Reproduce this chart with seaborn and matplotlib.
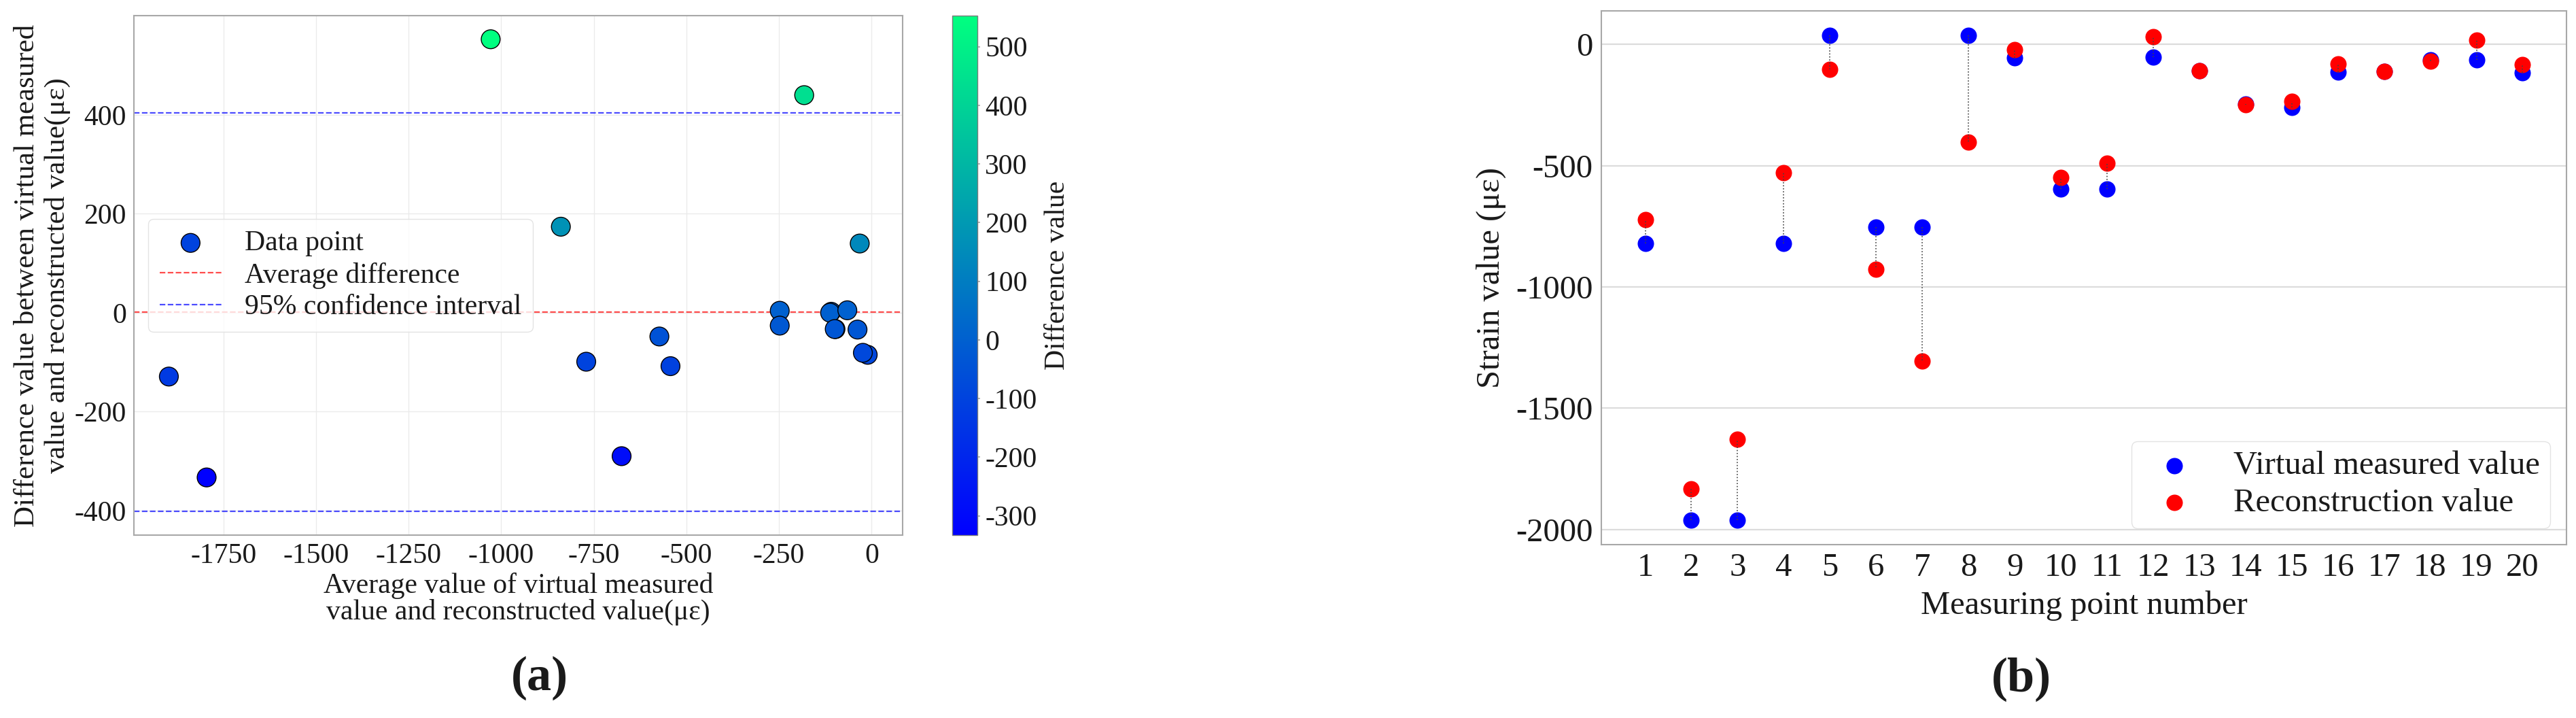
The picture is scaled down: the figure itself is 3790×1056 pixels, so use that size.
import numpy as np
import pandas as pd
import matplotlib
matplotlib.use("Agg")
import matplotlib.pyplot as plt
import seaborn as sns
from matplotlib.colors import Normalize
from matplotlib.cm import ScalarMappable

# ---------------- data ----------------
point_numbers = list(range(1, 21))
virtual_measured = [-820, -1962, -1962, -820, 38, -752, -752, 38, -55, -597,
                    -597, -53, -108, -246, -261, -114, -112, -63, -64, -116]
reconstruction = [-721, -1833, -1629, -530, -102, -926, -1305, -402, -21, -549,
                  -489, 32, -110, -250, -235, -81, -112, -68, 17, -83]

left_xticks = [-1750, -1500, -1250, -1000, -750, -500, -250, 0]
left_yticks = [-400, -200, 0, 200, 400]
cbar_ticks = [-300, -200, -100, 0, 100, 200, 300, 400, 500]
right_yticks = [-2000, -1500, -1000, -500, 0]

# Bland-Altman quantities
v = np.array(virtual_measured, dtype=float)
r = np.array(reconstruction, dtype=float)
mean_vals = (v + r) / 2
diff_vals = v - r
mean_diff = diff_vals.mean()
sd_diff = diff_vals.std(ddof=1)
upper = mean_diff + 1.96 * sd_diff
lower = mean_diff - 1.96 * sd_diff

# ---------------- style ----------------
sns.set_theme(style="whitegrid")
plt.rcParams.update({
    "font.family": ["Liberation Serif", "DejaVu Serif"],
    "axes.unicode_minus": False,
    "axes.edgecolor": "#a8a8a8",
    "axes.linewidth": 1.5,
    "text.color": "#1a1a1a",
    "axes.labelcolor": "#1a1a1a",
    "xtick.color": "#1a1a1a",
    "ytick.color": "#1a1a1a",
})

FS_L = 30
FS_R = 35

fig = plt.figure(figsize=(37.91, 10.56), dpi=100)
ax1 = fig.add_axes([0.05197, 0.25473, 0.29834, 0.72348])
cax = fig.add_axes([0.36956, 0.25473, 0.00976, 0.72348])
ax2 = fig.add_axes([0.62147, 0.24148, 0.37457, 0.74337])

# ---------------- left panel ----------------
df_left = pd.DataFrame({"mean": mean_vals, "diff": diff_vals})
norm = Normalize(vmin=diff_vals.min(), vmax=diff_vals.max())
sns.scatterplot(data=df_left, x="mean", y="diff", hue="diff", palette="winter",
                hue_norm=norm, s=400, edgecolor="black", linewidth=1.0,
                legend=False, ax=ax1, zorder=3)
pts = ax1.collections[0]
pts.set_label("Data point")
l_avg = ax1.axhline(mean_diff, color="red", ls="--", lw=1.6, alpha=0.7,
                    label="Average difference", zorder=2)
l_ci = ax1.axhline(upper, color="blue", ls="--", lw=1.6, alpha=0.7,
                   label="95% confidence interval", zorder=2)
ax1.axhline(lower, color="blue", ls="--", lw=1.6, alpha=0.7, zorder=2)

ax1.set_xticks(left_xticks)
ax1.set_yticks(left_yticks)
ax1.grid(True, color="#ebebeb", lw=1.0)
ax1.tick_params(axis="both", labelsize=FS_L, length=3, color="#a8a8a8", pad=5)
ax1.set_xlabel("Average value of virtual measured\nvalue and reconstructed value(με)",
               fontsize=FS_L, linespacing=1.0, labelpad=4)
ax1.set_ylabel("Difference value between virtual measured\nvalue and reconstructed value(με)",
               fontsize=31, linespacing=1.2, labelpad=4)
leg1 = ax1.legend(handles=[pts, l_avg, l_ci], loc="center left", fontsize=FS_L,
                  labelspacing=0.2, handlelength=2.2, borderpad=0.4,
                  framealpha=0.8, edgecolor="#dddddd")

sm = ScalarMappable(norm=norm, cmap="winter")
cb = fig.colorbar(sm, cax=cax)
cb.set_ticks(cbar_ticks)
cb.ax.tick_params(labelsize=FS_L, length=3, color="#a8a8a8", pad=5)
cb.set_label("Difference value", fontsize=FS_L, labelpad=8)
cb.outline.set_edgecolor("#7a7a7a")
cb.outline.set_linewidth(1.0)

# ---------------- right panel ----------------
sns.scatterplot(x=point_numbers, y=virtual_measured, color="blue", s=300,
                linewidth=0, label="Virtual measured value", ax=ax2, zorder=3)
sns.scatterplot(x=point_numbers, y=reconstruction, color="red", s=300,
                linewidth=0, label="Reconstruction value", ax=ax2, zorder=4)
ax2.vlines(point_numbers, virtual_measured, reconstruction, colors="#444444",
           linestyles=":", linewidth=1.2, zorder=5)

ax2.set_xticks(point_numbers)
ax2.set_yticks(right_yticks)
ax2.grid(axis="x", visible=False)
ax2.grid(axis="y", color="#dcdcdc", lw=1.6)
ax2.tick_params(axis="both", labelsize=FS_R, length=3, color="#a8a8a8", pad=6)
ax2.set_xlabel("Measuring point number", fontsize=FS_R, labelpad=8)
ax2.set_ylabel("Strain value (με)", fontsize=FS_R, labelpad=10)
ax2.legend(loc="lower right", fontsize=FS_R, labelspacing=0.22,
           handlelength=2.0, borderpad=0.3, framealpha=0.8, edgecolor="#dddddd")

# panel labels
fig.text(794 / 3791, 1 - 997 / 1056, "(a)", ha="center", va="center",
         fontsize=52, fontweight="bold")
fig.text(2974 / 3791, 1 - 999 / 1056, "(b)", ha="center", va="center",
         fontsize=52, fontweight="bold")

fig.savefig("out.png", dpi=100)
